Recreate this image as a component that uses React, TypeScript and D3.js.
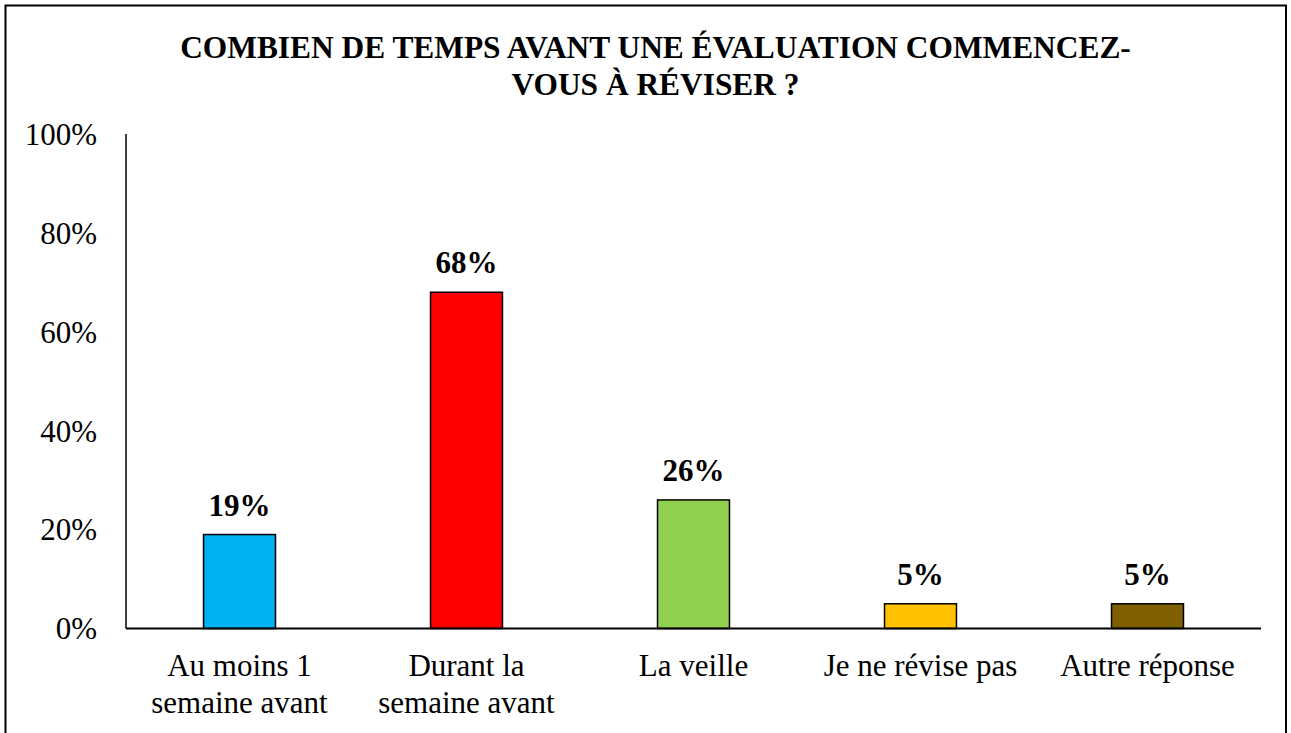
import React from "react";
import * as d3 from "d3";

const titleLines = ["COMBIEN DE TEMPS AVANT UNE ÉVALUATION COMMENCEZ-", "VOUS À RÉVISER ?"];
const categories = [
  ["Au moins 1", "semaine avant"],
  ["Durant la", "semaine avant"],
  ["La veille"],
  ["Je ne révise pas"],
  ["Autre réponse"],
];
const values = [0.19, 0.68, 0.26, 0.05, 0.05];
const valueLabels = ["19%", "68%", "26%", "5%", "5%"];
const colors = ["#00B0F0", "#FF0000", "#92D050", "#FFC000", "#7F6000"];
const yTicks = [0, 0.2, 0.4, 0.6, 0.8, 1.0];

const W = 1291;
const H = 733;
const left = 126;
const right = 1261;
const top = 134;
const bottom = 628.5;

function txt(extra: React.CSSProperties = {}): React.CSSProperties {
  return { fontFamily: '"Liberation Serif", "Times New Roman", Tinos, monospace', fontSize: "31px", ...extra };
}

export default function App() {
  const keys = categories.map((_, i) => String(i));
  const x = d3.scaleBand<string>().domain(keys).range([left, right]).paddingInner(0.683).paddingOuter(0.3415);
  const y = d3.scaleLinear().domain([0, 1]).range([bottom, top]);
  const fmt = d3.format(".0%");

  return (
    <svg width={W} height={H} style={{ position: "absolute", left: 0, top: 0, background: "#fff" }}>
      <rect x={0} y={0} width={W} height={H} fill="#fff" />
      <rect x={5.5} y={5.5} width={1280.5} height={H + 20} fill="none" stroke="#000" strokeWidth={2} />
      {titleLines.map((t, i) => (
        <text key={i} x={655.5} y={57.5 + i * 37} textAnchor="middle" style={txt({ fontWeight: "bold", fontSize: "31.4px" })}>
          {t}
        </text>
      ))}
      {yTicks.map((t) => (
        <text key={t} x={97} y={y(t)} dy="0.35em" textAnchor="end" style={txt()}>
          {fmt(t)}
        </text>
      ))}
      {values.map((v, i) => (
        <rect
          key={i}
          x={x(String(i))}
          y={y(v)}
          width={x.bandwidth()}
          height={y(0) - y(v)}
          fill={colors[i]}
          stroke="#000"
          strokeWidth={1.5}
        />
      ))}
      {values.map((v, i) => (
        <text
          key={i}
          x={(x(String(i)) as number) + x.bandwidth() / 2}
          y={y(v) - 19}
          textAnchor="middle"
          style={txt({ fontWeight: "bold" })}
        >
          {valueLabels[i]}
        </text>
      ))}
      <line x1={left} x2={left} y1={top} y2={bottom} stroke="#000" strokeWidth={1.5} />
      <line x1={left} x2={right} y1={bottom} y2={bottom} stroke="#000" strokeWidth={2} />
      {categories.map((lines, i) => (
        <text key={i} textAnchor="middle" style={txt()}>
          {lines.map((l, j) => (
            <tspan key={j} x={(x(String(i)) as number) + x.bandwidth() / 2} y={676 + j * 37}>
              {l}
            </tspan>
          ))}
        </text>
      ))}
    </svg>
  );
}
